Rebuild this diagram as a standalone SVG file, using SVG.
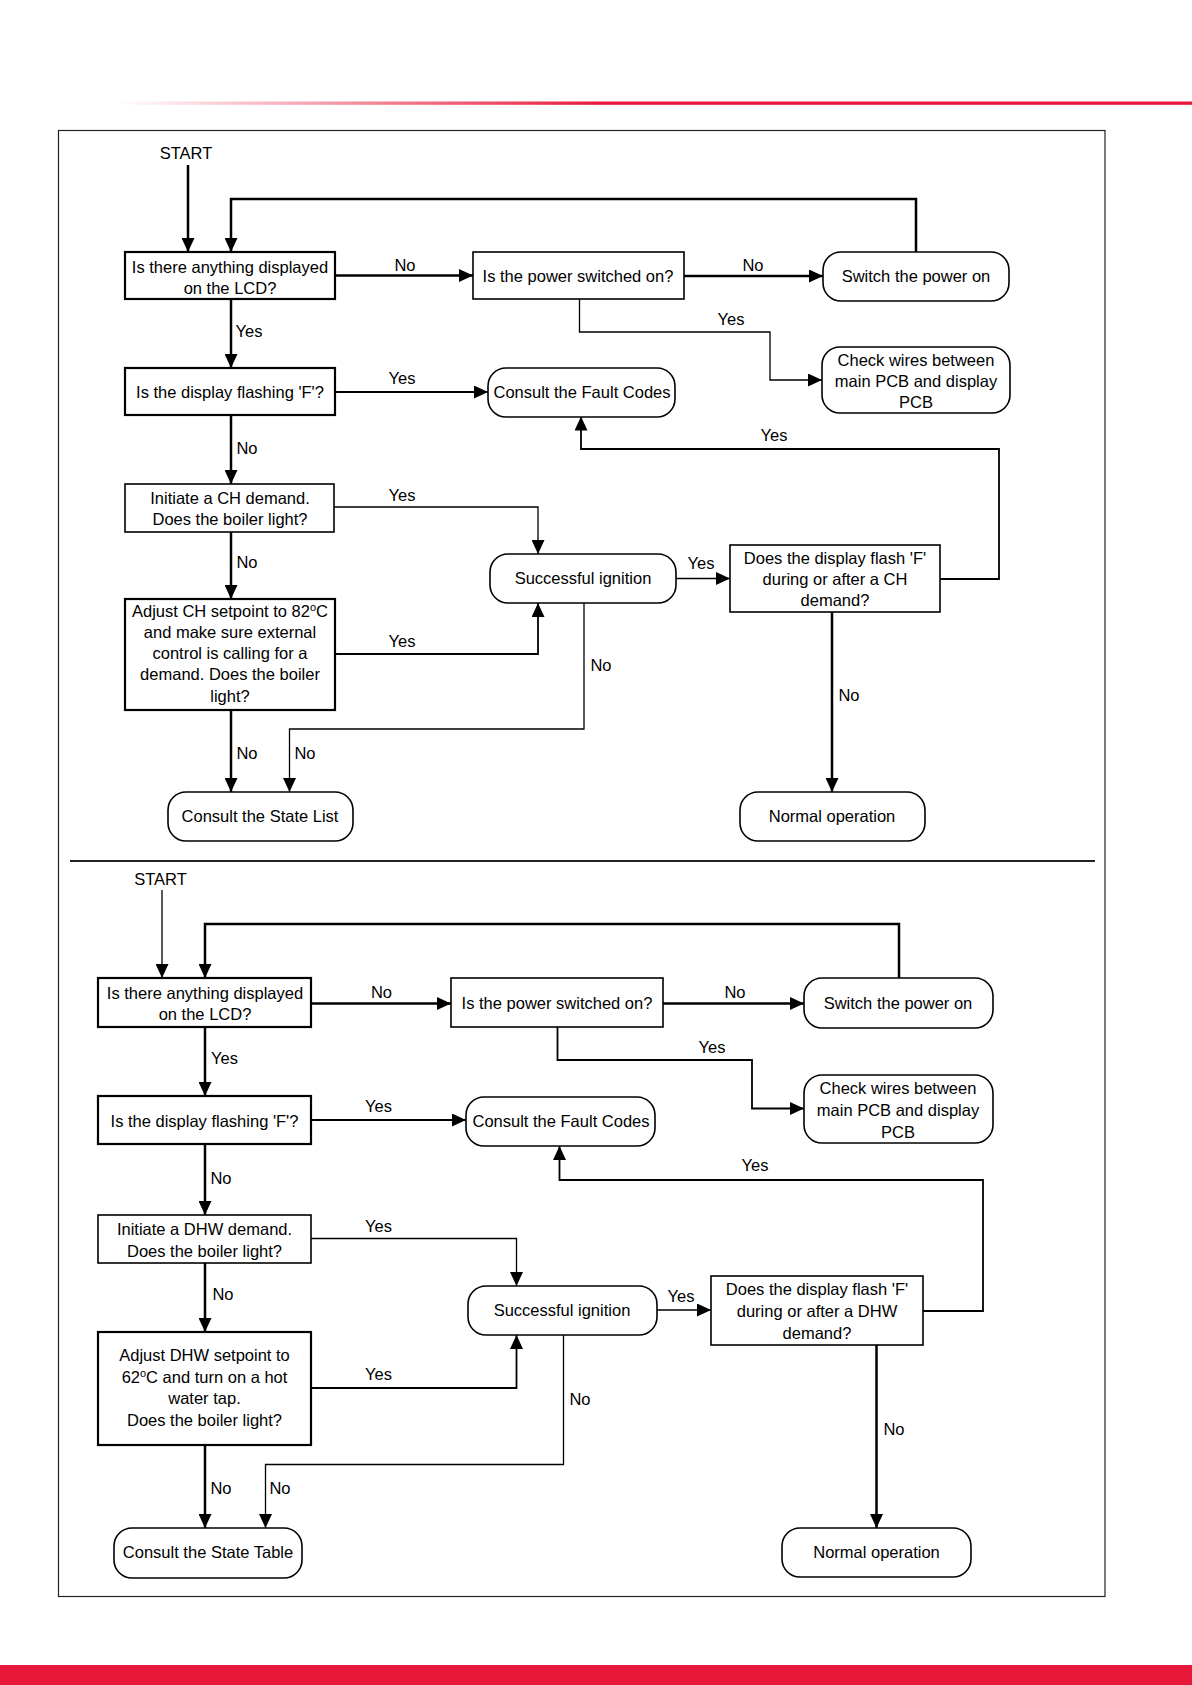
<svg xmlns="http://www.w3.org/2000/svg" width="1192" height="1685" viewBox="0 0 1192 1685">
<defs>
<linearGradient id="redfade" x1="118" y1="0" x2="1192" y2="0" gradientUnits="userSpaceOnUse">
<stop offset="0" stop-color="#e8183a" stop-opacity="0"/>
<stop offset="0.45" stop-color="#e8183a" stop-opacity="1"/>
<stop offset="1" stop-color="#e8183a"/>
</linearGradient>
<marker id="arr" markerUnits="userSpaceOnUse" markerWidth="15" markerHeight="13" refX="14" refY="6.5" orient="auto">
<path d="M0,0 L14,6.5 L0,13 Z" fill="#000"/>
</marker>
</defs>
<style>
text{font-family:"Liberation Sans",Arial,sans-serif;font-size:16.5px;fill:#000;}
.c{text-anchor:middle;}
.box{fill:#fff;stroke:#000;stroke-width:1.6;}
.bx{fill:#fff;stroke:#000;stroke-width:2.2;}
.rnd{fill:#fff;stroke:#000;stroke-width:1.6;}
.thick{fill:none;stroke:#000;stroke-width:2.5;}
.thin{fill:none;stroke:#000;stroke-width:1.3;}
.med{fill:none;stroke:#000;stroke-width:1.8;}
.a{marker-end:url(#arr);}
</style>
<rect x="0" y="0" width="1192" height="1685" fill="#fff"/>
<rect x="118" y="101.5" width="1074" height="3.3" fill="url(#redfade)"/>
<rect x="0" y="1665" width="1192" height="20" fill="#e61739"/>
<rect x="58.5" y="130.5" width="1046.5" height="1466" fill="none" stroke="#222" stroke-width="1.2"/>
<line x1="70" y1="861" x2="1095" y2="861" stroke="#222" stroke-width="2"/>

<g id="connectors">
<!-- top -->
<path class="thick a" d="M188,165 V252"/>
<path class="thick a" d="M916,252 V199 H231 V252"/>
<path class="thick a" d="M335,275.5 H473"/>
<path class="thick a" d="M684,276 H823"/>
<path class="thin a" d="M579.5,299 V332 H770 V380 H822"/>
<path class="thick a" d="M231,299 V368"/>
<path class="med a" d="M335,392 H488"/>
<path class="med a" d="M940,579 H999 V449 H581 V416.5"/>
<path class="thick a" d="M231,415 V484"/>
<path class="thin a" d="M334,507 H538 V554"/>
<path class="thick a" d="M231,532 V599"/>
<path class="med a" d="M335,654 H538 V603"/>
<path class="thin a" d="M676,578.5 H730"/>
<path class="thin a" d="M584,603 V729 H289.5 V792"/>
<path class="thick a" d="M231,710 V792"/>
<path class="thick a" d="M832,612 V792"/>
<!-- bottom -->
<path class="thin a" d="M162,890 V978"/>
<path class="thick a" d="M899,978 V924 H205 V978"/>
<path class="thick a" d="M311,1003.5 H451"/>
<path class="thick a" d="M663,1003.5 H804"/>
<path class="med a" d="M557.5,1027 V1060 H752 V1108.5 H804"/>
<path class="thick a" d="M205,1027 V1096"/>
<path class="med a" d="M311,1120 H466"/>
<path class="med a" d="M923,1311 H983 V1180 H559.5 V1146"/>
<path class="thick a" d="M205,1144 V1215"/>
<path class="thin a" d="M311,1238.5 H516.5 V1286"/>
<path class="thick a" d="M205,1263 V1332"/>
<path class="med a" d="M311,1388 H516.5 V1335"/>
<path class="thin a" d="M657,1310 H711"/>
<path class="thin a" d="M563.5,1335 V1464.5 H265.5 V1528"/>
<path class="thick a" d="M205,1445 V1528"/>
<path class="thick a" d="M876.5,1345 V1528"/>
<!-- labels -->
<text class="c" x="405" y="271">No</text>
<text class="c" x="753" y="271">No</text>
<text class="c" x="731" y="325">Yes</text>
<text class="c" x="249" y="337">Yes</text>
<text class="c" x="402" y="383.5">Yes</text>
<text class="c" x="774" y="441">Yes</text>
<text class="c" x="247" y="454">No</text>
<text class="c" x="402" y="501">Yes</text>
<text class="c" x="247" y="567.5">No</text>
<text class="c" x="402" y="646.5">Yes</text>
<text class="c" x="701" y="569">Yes</text>
<text class="c" x="601" y="671">No</text>
<text class="c" x="247" y="759">No</text>
<text class="c" x="305" y="759">No</text>
<text class="c" x="849" y="701">No</text>

<text class="c" x="381.5" y="997.5">No</text>
<text class="c" x="735" y="997.5">No</text>
<text class="c" x="712" y="1052.5">Yes</text>
<text class="c" x="224.5" y="1064">Yes</text>
<text class="c" x="378.5" y="1112">Yes</text>
<text class="c" x="755" y="1171">Yes</text>
<text class="c" x="221" y="1184">No</text>
<text class="c" x="378.5" y="1232">Yes</text>
<text class="c" x="223" y="1300">No</text>
<text class="c" x="378.5" y="1380">Yes</text>
<text class="c" x="681" y="1301.5">Yes</text>
<text class="c" x="580" y="1405">No</text>
<text class="c" x="221" y="1494">No</text>
<text class="c" x="280" y="1494">No</text>
<text class="c" x="894" y="1435">No</text>
</g>

<!-- top half nodes -->
<g id="start1"><text class="c" x="186" y="159">START</text></g>
<g id="lcd1"><rect class="bx" x="125" y="252" width="210" height="47"/>
<text class="c" x="230" y="272.5">Is there anything displayed</text>
<text class="c" x="230" y="293.5">on the LCD?</text></g>
<g id="power1"><rect class="box" x="473" y="252" width="211" height="47"/>
<text class="c" x="578" y="281.5">Is the power switched on?</text></g>
<g id="switch1"><rect class="rnd" x="823" y="252" width="186" height="49" rx="18"/>
<text class="c" x="916" y="282">Switch the power on</text></g>
<g id="check1"><rect class="rnd" x="822" y="347" width="188" height="66" rx="18"/>
<text class="c" x="916" y="366">Check wires between</text>
<text class="c" x="916" y="387">main PCB and display</text>
<text class="c" x="916" y="407.5">PCB</text></g>
<g id="flash1"><rect class="bx" x="125" y="368" width="210" height="47"/>
<text class="c" x="230" y="397.5">Is the display flashing 'F'?</text></g>
<g id="fault1"><rect class="rnd" x="488" y="368" width="187" height="49" rx="18"/>
<text class="c" x="582" y="398">Consult the Fault Codes</text></g>
<g id="ch1"><rect class="box" x="125" y="484" width="209" height="48"/>
<text class="c" x="230" y="504">Initiate a CH demand.</text>
<text class="c" x="230" y="525">Does the boiler light?</text></g>
<g id="ign1"><rect class="rnd" x="490" y="554" width="186" height="49" rx="18"/>
<text class="c" x="583" y="584">Successful ignition</text></g>
<g id="df1"><rect class="box" x="730" y="545" width="210" height="67"/>
<text class="c" x="835" y="563.5">Does the display flash 'F'</text>
<text class="c" x="835" y="585">during or after a CH</text>
<text class="c" x="835" y="606">demand?</text></g>
<g id="adj1"><rect class="bx" x="125" y="599" width="210" height="111"/>
<text class="c" x="230" y="617">Adjust CH setpoint to 82<tspan font-size="11" dy="-6">o</tspan><tspan dy="6">C</tspan></text>
<text class="c" x="230" y="638">and make sure external</text>
<text class="c" x="230" y="659">control is calling for a</text>
<text class="c" x="230" y="680">demand. Does the boiler</text>
<text class="c" x="230" y="701.5">light?</text></g>
<g id="state1"><rect class="rnd" x="168" y="792" width="185" height="49" rx="18"/>
<text class="c" x="260" y="821.5">Consult the State List</text></g>
<g id="normal1"><rect class="rnd" x="740" y="792" width="185" height="49" rx="18"/>
<text class="c" x="832" y="822">Normal operation</text></g>

<!-- bottom half nodes -->
<g id="start2"><text class="c" x="160.5" y="885">START</text></g>
<g id="lcd2"><rect class="bx" x="98" y="978" width="213" height="49"/>
<text class="c" x="205" y="998.5">Is there anything displayed</text>
<text class="c" x="205" y="1020">on the LCD?</text></g>
<g id="power2"><rect class="box" x="451" y="978" width="212" height="49"/>
<text class="c" x="557" y="1009">Is the power switched on?</text></g>
<g id="switch2"><rect class="rnd" x="804" y="978" width="189" height="50" rx="18"/>
<text class="c" x="898" y="1009">Switch the power on</text></g>
<g id="check2"><rect class="rnd" x="804" y="1075" width="189" height="68" rx="18"/>
<text class="c" x="898" y="1094">Check wires between</text>
<text class="c" x="898" y="1116">main PCB and display</text>
<text class="c" x="898" y="1137.5">PCB</text></g>
<g id="flash2"><rect class="bx" x="98" y="1096" width="213" height="48"/>
<text class="c" x="204.5" y="1126.5">Is the display flashing 'F'?</text></g>
<g id="fault2"><rect class="rnd" x="466" y="1097" width="189" height="49" rx="18"/>
<text class="c" x="561" y="1126.5">Consult the Fault Codes</text></g>
<g id="dhw2"><rect class="box" x="98" y="1215" width="213" height="48"/>
<text class="c" x="204.5" y="1235">Initiate a DHW demand.</text>
<text class="c" x="204.5" y="1256.5">Does the boiler light?</text></g>
<g id="ign2"><rect class="rnd" x="468" y="1286" width="189" height="49" rx="18"/>
<text class="c" x="562" y="1316">Successful ignition</text></g>
<g id="df2"><rect class="box" x="711" y="1276" width="212" height="69"/>
<text class="c" x="817" y="1295">Does the display flash 'F'</text>
<text class="c" x="817" y="1317">during or after a DHW</text>
<text class="c" x="817" y="1338.5">demand?</text></g>
<g id="adj2"><rect class="bx" x="98" y="1332" width="213" height="113"/>
<text class="c" x="204.5" y="1361">Adjust DHW setpoint to</text>
<text class="c" x="204.5" y="1382.5">62<tspan font-size="11" dy="-6">o</tspan><tspan dy="6">C and turn on a hot</tspan></text>
<text class="c" x="204.5" y="1404">water tap.</text>
<text class="c" x="204.5" y="1426">Does the boiler light?</text></g>
<g id="state2"><rect class="rnd" x="114" y="1528" width="188" height="50" rx="18"/>
<text class="c" x="208" y="1557.5">Consult the State Table</text></g>
<g id="normal2"><rect class="rnd" x="782" y="1528" width="189" height="49" rx="18"/>
<text class="c" x="876.5" y="1557.5">Normal operation</text></g>
</svg>
